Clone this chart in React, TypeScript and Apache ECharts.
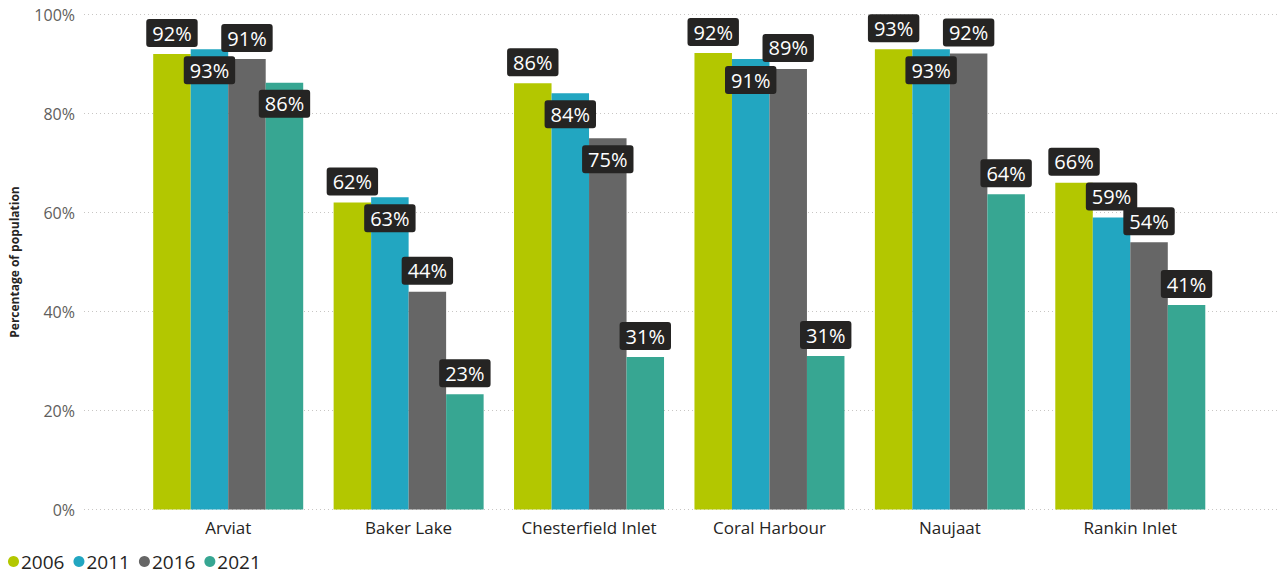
import React, { useEffect, useRef } from "react";
import * as echarts from "echarts";

const categories = ["Arviat", "Baker Lake", "Chesterfield Inlet", "Coral Harbour", "Naujaat", "Rankin Inlet"];
const years = ["2006", "2011", "2016", "2021"];
const values2006 = [92.0, 62.0, 86.1, 92.2, 93.0, 66.0];
const values2011 = [93.0, 63.1, 84.1, 91.0, 93.0, 59.0];
const values2016 = [91.0, 44.0, 75.0, 89.0, 92.1, 54.0];
const values2021 = [86.2, 23.3, 30.8, 31.0, 63.7, 41.3];
const yTicks = [0, 20, 40, 60, 80, 100];

// label placement chosen (like the reference) to avoid overlaps: "top" = above bar, "in" = inside top
const place2006 = ["top", "top", "top", "top", "top", "top"];
const place2011 = ["in", "in", "in", "in", "in", "top"];
const place2016 = ["top", "top", "in", "top", "top", "top"];
const place2021 = ["in", "top", "top", "top", "top", "top"];

const colors = ["#B3C700", "#22A6C1", "#666666", "#37A692"];
const FONT = "'Segoe UI', 'Open Sans', sans-serif";

export default function App() {
  const ref = useRef<HTMLDivElement>(null);
  useEffect(() => {
    document.body.style.margin = "0";
    const chart = echarts.init(ref.current!, null, { renderer: "svg" });
    const seriesVals = [values2006, values2011, values2016, values2021];
    const places = [place2006, place2011, place2016, place2021];
    const series = years.map((y, si) => ({
      name: y,
      type: "bar",
      xAxisIndex: 1,
      yAxisIndex: 1,
      barWidth: 37.5,
      barGap: "0%",
      itemStyle: { color: colors[si] },
      data: seriesVals[si].map((v, i) => ({
        value: v,
        label: {
          show: true,
          position: places[si][i] === "in" ? "insideTop" : "top",
          distance: 7,
          formatter: Math.round(v) + "%",
          backgroundColor: "#252423",
          color: "#FFFFFF",
          borderRadius: 3,
          padding: [3, 6],
          fontSize: 20,
          lineHeight: 22,
          fontFamily: FONT,
        },
      })),
    }));
    chart.setOption({
      animation: false,
      textStyle: { fontFamily: FONT },
      legend: {
        left: 3,
        top: 547,
        icon: "circle",
        itemWidth: 11,
        itemHeight: 11,
        itemGap: 9,
        data: years,
        textStyle: { fontSize: 19, color: "#252423", fontFamily: FONT, padding: [0, 0, 0, -3] },
      },
      grid: [
        { left: 80, right: 7, top: 14.5, bottom: 67.5 },
        { left: 138, right: 66.5, top: 14.5, bottom: 67.5 },
      ],
      xAxis: [
        { type: "value", gridIndex: 0, show: false, min: 0, max: 1 },
        {
          type: "category",
          gridIndex: 1,
          data: categories,
          axisLine: { show: false },
          axisTick: { show: false },
          axisLabel: { fontSize: 17, color: "#252423", margin: 9, fontFamily: FONT },
        },
      ],
      yAxis: [
        {
          type: "value",
          gridIndex: 0,
          min: yTicks[0],
          max: yTicks[yTicks.length - 1],
          interval: 20,
          name: "Percentage of population",
          nameLocation: "middle",
          nameGap: 64,
          nameTextStyle: { fontSize: 12, fontWeight: "bold", color: "#252423", fontFamily: FONT },
          axisLabel: { formatter: "{value}%", fontSize: 16, color: "#605E5C", margin: 9, fontFamily: FONT },
          axisLine: { show: false },
          axisTick: { show: false },
          splitLine: { lineStyle: { color: "#C8C6C4", type: [1, 3], width: 1 } },
        },
        { type: "value", gridIndex: 1, min: 0, max: 100, show: false },
      ],
      series,
    });
    return () => chart.dispose();
  }, []);
  return <div ref={ref} style={{ width: 1287, height: 577 }} />;
}
